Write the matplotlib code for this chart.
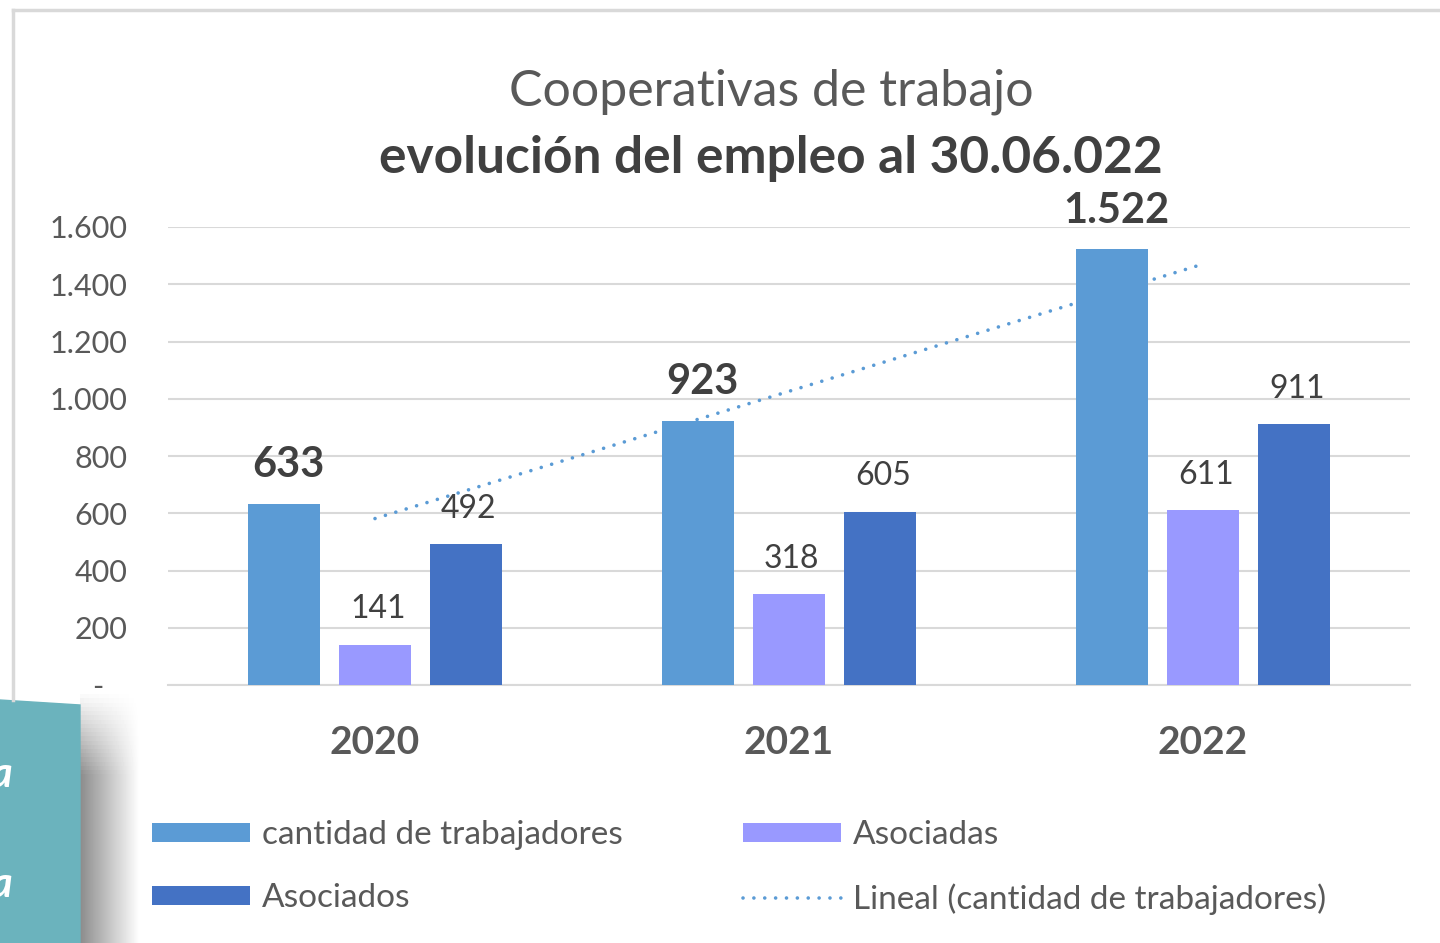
import numpy as np
import matplotlib.pyplot as plt
from matplotlib.patches import Polygon

plt.rcParams['font.family'] = ['Lato', 'DejaVu Sans']

# data
years = ["2020", "2021", "2022"]
trabajadores = [633, 923, 1522]
asociadas = [141, 318, 611]
asociados = [492, 605, 911]
yticks = [0, 200, 400, 600, 800, 1000, 1200, 1400, 1600]
ytick_labels = ["-   ", "200", "400", "600", "800", "1.000", "1.200", "1.400", "1.600"]

c_trab = "#5B9BD5"
c_asa = "#9999FF"
c_aso = "#4472C4"
gray = "#595959"

W, H = 1440, 943
fig = plt.figure(figsize=(W / 100, H / 100), dpi=100)
fig.patch.set_facecolor("white")

ax = fig.add_axes([168 / W, 1 - 685 / H, (1410 - 168) / W, (685 - 227) / H])
x = np.arange(len(years))
bw = 0.174
off = 0.22

b1 = ax.bar(x - off, trabajadores, bw, color=c_trab, zorder=3, label="cantidad de trabajadores")
b2 = ax.bar(x, asociadas, bw, color=c_asa, zorder=3, label="Asociadas")
b3 = ax.bar(x + off, asociados, bw, color=c_aso, zorder=3, label="Asociados")

# linear trend of cantidad de trabajadores (as Excel draws it)
k, d = np.polyfit(x, trabajadores, 1)
tl, = ax.plot(x, k * x + d, color=c_trab, lw=2.6, linestyle=(0, (0.01, 3.0)),
              dash_capstyle="round", zorder=2, label="Lineal (cantidad de trabajadores)")

def fmt(v):
    return f"{v:,}".replace(",", ".")

for xi, v in zip(x - off, trabajadores):
    ax.annotate(fmt(v), (xi, v), xytext=(3, 19), textcoords="offset points",
                ha="center", va="baseline", fontsize=30, fontweight="bold",
                color="#404040", annotation_clip=False)
for bars_x, vals in ((x, asociadas), (x + off, asociados)):
    for xi, v in zip(bars_x, vals):
        ax.annotate(fmt(v), (xi, v), xytext=(2, 19), textcoords="offset points",
                    ha="center", va="baseline", fontsize=23, color="#404040",
                    annotation_clip=False)

ax.set_xlim(-0.5, 2.5)
ax.set_ylim(0, 1600)
ax.set_yticks(yticks)
ax.set_yticklabels(ytick_labels)
ax.set_xticks(x)
ax.set_xticklabels(years, fontweight="bold")
ax.tick_params(axis="y", length=0, pad=29, labelsize=22, labelcolor=gray)
ax.tick_params(axis="x", length=0, pad=29, labelsize=28, labelcolor=gray)
ax.grid(axis="y", color="#D9D9D9", lw=1.5, zorder=0)
for s in ("top", "right", "left"):
    ax.spines[s].set_visible(False)
ax.spines["bottom"].set_color("#D9D9D9")
ax.spines["bottom"].set_linewidth(1.5)

# titles
fig.text(771 / W, 1 - 92 / H, "Cooperativas de trabajo", ha="center", va="center",
         fontsize=36, color=gray)
fig.text(771 / W, 1 - 158 / H, "evolución del empleo al 30.06.022", ha="center",
         va="center", fontsize=37, fontweight="bold", color="#404040")

# legend
leg = fig.legend([b1, b3, b2, tl],
                 ["cantidad de trabajadores", "Asociados", "Asociadas",
                  "Lineal (cantidad de trabajadores)"],
                 ncols=2, loc="upper left", bbox_to_anchor=(122 / W, 1 - 790 / H),
                 frameon=False, fontsize=24, labelcolor=gray,
                 handlelength=2.95, handleheight=0.5, handletextpad=0.35,
                 labelspacing=1.0, columnspacing=3.6)

# chart frame
fig.add_artist(plt.Line2D([13 / W, 1], [1 - 10 / H, 1 - 10 / H], color="#D9D9D9", lw=2.5))
fig.add_artist(plt.Line2D([13 / W, 13 / W], [1 - 10 / H, 1 - 700 / H], color="#D9D9D9", lw=2.5))

# overlapping element at bottom-left (shadow + teal panel)
sax = fig.add_axes([80 / W, 0, 60 / W, 1 - 690 / H])
grad = np.linspace(0.55, 1.0, 60)[None, :] * np.ones((60, 1))
vfade = np.clip(np.linspace(0, 1, 60), 0, 1)[:, None]
img = 1 - (1 - grad) * np.clip(vfade * 3, 0, 1)
sax.imshow(img, cmap="gray", vmin=0, vmax=1, aspect="auto", origin="upper")
sax.axis("off")

tax = fig.add_axes([0, 0, 80 / W, 1 - 700 / H])
tax.set_xlim(0, 80)
tax.set_ylim(943, 700)
tax.axis("off")
tax.add_patch(Polygon([[0, 700], [80, 705], [80, 943], [0, 943]], closed=True,
                      color="#6BB3BD", clip_on=False))
for yy in (775, 885):
    tax.text(12, yy, "a", ha="right", va="center", fontsize=30, fontstyle="italic",
             fontweight="bold", color="white", clip_on=True)

fig.savefig("out.png", dpi=100)
